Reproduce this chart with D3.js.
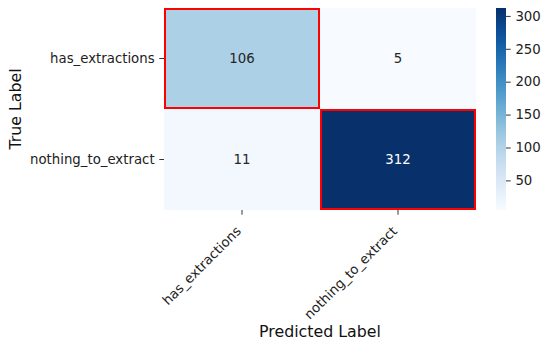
<!DOCTYPE html>
<html>
<head>
<meta charset="utf-8">
<script src="https://cdn.jsdelivr.net/npm/d3@7"></script>
<style>
  body { margin: 0; background: #fff; }
  text { font-family: "DejaVu Sans", sans-serif; }
</style>
</head>
<body>
<div id="chart"></div>
<script>
const classes = ['has_extractions', 'nothing_to_extract'];
const rowValues0 = [106, 5];
const rowValues1 = [11, 312];
const colorTicks = [50, 100, 150, 200, 250, 300];

const matrix = [rowValues0, rowValues1];
const cells = [];
matrix.forEach((row, i) => row.forEach((v, j) => cells.push({ row: classes[i], col: classes[j], value: v, diag: i === j })));

const width = 550;
const height = 345;
const margin = { top: 8, left: 164, right: 74, bottom: 135 };
const fs = '13.3px';
const tick = 4.7;

const svg = d3.select('#chart')
  .append('svg')
  .attr('width', width)
  .attr('height', height);

const x = d3.scaleBand()
  .domain(classes)
  .range([margin.left, width - margin.right]);

const y = d3.scaleBand()
  .domain(classes)
  .range([margin.top, height - margin.bottom]);

const vmin = d3.min(cells, d => d.value);
const vmax = d3.max(cells, d => d.value);
const color = d3.scaleSequential(d3.interpolateBlues).domain([vmin, vmax]);

// cells
svg.append('g')
  .selectAll('rect')
  .data(cells)
  .join('rect')
    .attr('x', d => x(d.col))
    .attr('y', d => y(d.row))
    .attr('width', x.bandwidth())
    .attr('height', y.bandwidth())
    .attr('fill', d => color(d.value));

// annotations
svg.append('g')
  .selectAll('text')
  .data(cells)
  .join('text')
    .attr('x', d => x(d.col) + x.bandwidth() / 2)
    .attr('y', d => y(d.row) + y.bandwidth() / 2)
    .attr('dy', '0.35em')
    .attr('text-anchor', 'middle')
    .attr('font-size', fs)
    .attr('fill', d => (d.value - vmin) / (vmax - vmin) > 0.6 ? '#fff' : '#262626')
    .text(d => d.value);

// red outlines on the diagonal
svg.append('g')
  .selectAll('rect')
  .data(cells.filter(d => d.diag))
  .join('rect')
    .attr('x', d => x(d.col) + 1)
    .attr('y', d => y(d.row) + 1)
    .attr('width', x.bandwidth() - 2)
    .attr('height', y.bandwidth() - 2)
    .attr('fill', 'none')
    .attr('stroke', '#ff0000')
    .attr('stroke-width', 2);

// y axis
const yAxis = svg.append('g')
  .attr('transform', `translate(${margin.left},0)`)
  .call(d3.axisLeft(y).tickSize(tick).tickPadding(tick));
yAxis.select('.domain').remove();
yAxis.selectAll('text').attr('font-size', fs).attr('fill', '#222');
yAxis.selectAll('line').attr('stroke', '#333');

// x axis
const xAxis = svg.append('g')
  .attr('transform', `translate(0,${height - margin.bottom})`)
  .call(d3.axisBottom(x).tickSize(tick).tickPadding(tick));
xAxis.select('.domain').remove();
xAxis.selectAll('line').attr('stroke', '#333');
xAxis.selectAll('text')
  .attr('font-size', fs)
  .attr('fill', '#222')
  .attr('text-anchor', 'end')
  .attr('dy', '0.35em')
  .attr('transform', 'translate(-10,12) rotate(-45)');

// axis titles
svg.append('text')
  .attr('x', (margin.left + width - margin.right) / 2)
  .attr('y', 337)
  .attr('text-anchor', 'middle')
  .attr('font-size', '15.8px')
  .attr('fill', '#111')
  .text('Predicted Label');

svg.append('text')
  .attr('transform', `translate(21,${(margin.top + height - margin.bottom) / 2}) rotate(-90)`)
  .attr('text-anchor', 'middle')
  .attr('font-size', '15.8px')
  .attr('fill', '#111')
  .text('True Label');

// colorbar
const cbX = 496, cbW = 10;
const cy = d3.scaleLinear()
  .domain([vmin, vmax])
  .range([height - margin.bottom, margin.top]);

const defs = svg.append('defs');
const grad = defs.append('linearGradient')
  .attr('id', 'cbgrad')
  .attr('x1', 0).attr('y1', 1).attr('x2', 0).attr('y2', 0);
d3.range(0, 1.001, 0.05).forEach(t => {
  grad.append('stop').attr('offset', t).attr('stop-color', d3.interpolateBlues(t));
});

svg.append('rect')
  .attr('x', cbX)
  .attr('y', margin.top)
  .attr('width', cbW)
  .attr('height', height - margin.bottom - margin.top)
  .attr('fill', 'url(#cbgrad)');

const cAxis = svg.append('g')
  .attr('transform', `translate(${cbX + cbW},0)`)
  .call(d3.axisRight(cy).tickValues(colorTicks).tickSize(tick).tickPadding(tick));
cAxis.select('.domain').remove();
cAxis.selectAll('line').attr('stroke', '#333');
cAxis.selectAll('text').attr('font-size', fs).attr('fill', '#222');
</script>
</body>
</html>
